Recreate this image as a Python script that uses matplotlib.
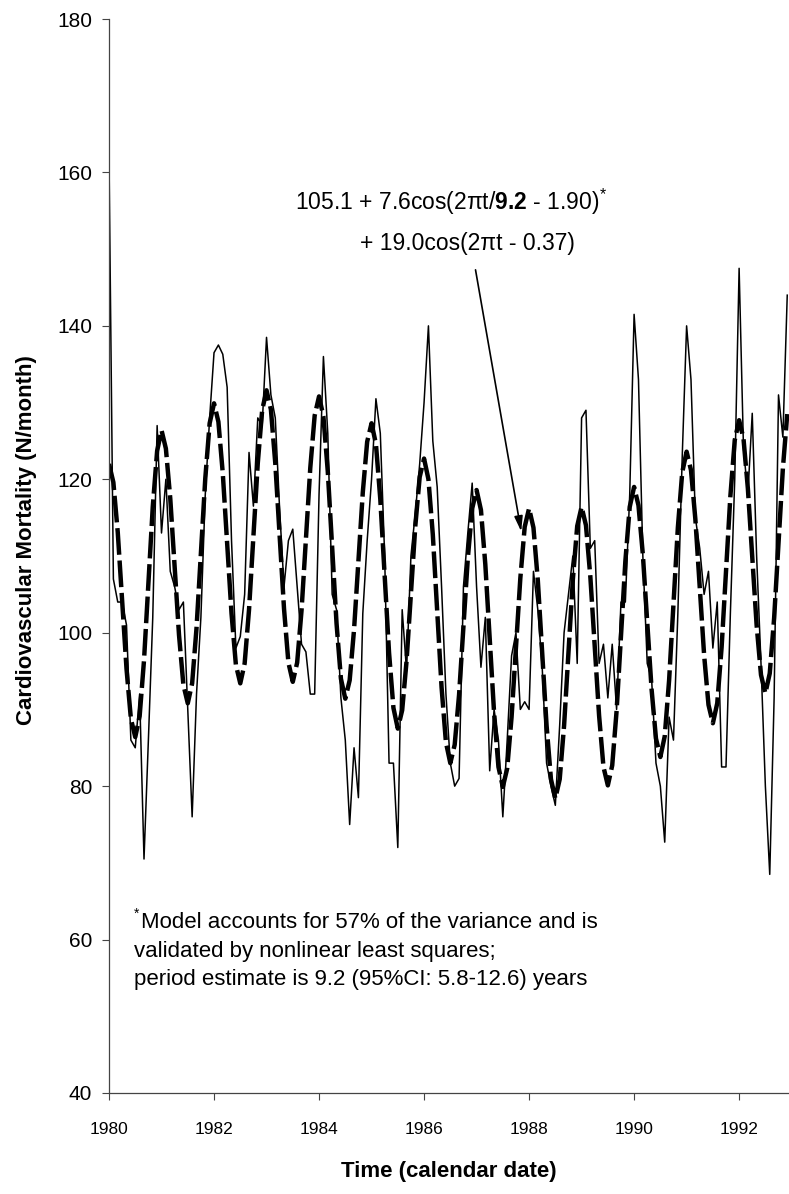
import numpy as np
import matplotlib
matplotlib.use("Agg")
from matplotlib import pyplot as plt

plt.rcParams['font.family'] = ['Liberation Sans', 'DejaVu Sans']
plt.rcParams['mathtext.fontset'] = 'custom'
plt.rcParams['mathtext.rm'] = 'Liberation Sans'
plt.rcParams['mathtext.bf'] = 'Liberation Sans:bold'

# monthly observed mortality, Jan 1980 .. Dec 1992
observed = [
    162, 107, 104, 104, 101, 86, 85, 92, 70.5, 86, 102, 127,
    113, 120, 108, 106, 103, 104, 90, 76, 92, 102, 118, 128,
    136.5, 137.5, 136.3, 132, 112, 98, 99.5, 105, 123.5, 116.5, 128, 127,
    138.5, 131, 128, 116, 106, 112, 113.5, 106, 98.5, 97.5, 92, 92,
    118, 136, 126, 105, 103, 91.5, 86, 75, 85, 78.5, 102.5, 112,
    120, 130.5, 126, 110, 83, 83, 72, 103, 95, 110, 115.6, 122,
    130, 140, 125, 119, 106, 92, 83, 80, 81, 106, 113, 119.5,
    106, 95.5, 102, 82, 90, 86, 76, 86, 97, 100, 90, 91,
    90, 108, 103, 95.5, 83, 80, 77.5, 88, 100, 105, 110, 96,
    128, 129, 111, 112, 96, 98.5, 91.5, 98.5, 90, 104, 104, 118,
    141.5, 133, 110, 96, 94, 83, 80, 72.7, 89, 86, 102.5, 123,
    140, 133, 115, 111, 105, 108, 98, 104, 82.5, 82.5, 102.5, 120,
    147.5, 124, 118, 128.6, 110, 96, 80, 68.5, 91.5, 131, 125.5, 144,
]

# fitted model curve
model = [
    122.0, 119.6, 113.1, 104.2, 95.3, 88.8, 86.4, 89.1, 96.4, 106.4, 116.4, 123.7,
    126.4, 124.0, 117.5, 108.6, 99.7, 93.2, 90.8, 93.4, 100.6, 110.4, 120.1, 127.3,
    129.9, 127.5, 120.8, 111.7, 102.5, 95.8, 93.4, 96.0, 103.0, 112.5, 122.1, 129.0,
    131.6, 129.1, 122.1, 112.6, 103.1, 96.1, 93.6, 96.1, 102.9, 112.2, 121.5, 128.3,
    130.8, 128.2, 121.0, 111.1, 101.2, 94.0, 91.4, 93.8, 100.4, 109.4, 118.3, 124.9,
    127.3, 124.6, 117.4, 107.4, 97.4, 90.2, 87.5, 89.9, 96.3, 105.1, 113.9, 120.3,
    122.7, 120.0, 112.8, 102.9, 92.9, 85.7, 83.0, 85.4, 91.9, 100.8, 109.7, 116.2,
    118.6, 116.0, 108.9, 99.3, 89.6, 82.5, 79.9, 82.3, 89.0, 98.1, 107.1, 113.8,
    116.2, 113.7, 106.8, 97.3, 87.9, 80.9, 78.4, 80.9, 87.9, 97.4, 106.9, 113.9,
    116.4, 114.0, 107.3, 98.3, 89.2, 82.5, 80.1, 82.7, 89.8, 99.6, 109.3, 116.4,
    119.0, 116.6, 110.2, 101.4, 92.6, 86.2, 83.8, 86.5, 93.8, 103.7, 113.7, 120.9,
    123.6, 121.2, 114.8, 105.9, 97.1, 90.6, 88.2, 90.8, 98.1, 108.0, 117.8, 125.1,
    127.7, 125.3, 118.8, 109.9, 101.0, 94.5, 92.1, 94.7, 101.9, 111.6, 121.4, 128.5,
]

start_year = 1980
year_ticks = [1980, 1982, 1984, 1986, 1988, 1990, 1992]
y_ticks = [40, 60, 80, 100, 120, 140, 160, 180]

t = start_year + np.arange(len(observed)) / 12.0

W, H = 789, 1194
fig = plt.figure(figsize=(W / 100, H / 100), dpi=100)
ax = fig.add_axes([109 / W, (H - 1093) / H, (W - 109) / W, (1093 - 19) / H])

ax.plot(t, observed, color='black', lw=1.1)
ax.plot(t, model, color='black', lw=3.2, dashes=(6, 1.3), solid_capstyle='butt')

ax.set_xlim(1980, 1992.95)
ax.set_ylim(40, 180)
ax.set_xticks(year_ticks)
ax.set_yticks(y_ticks)
ax.tick_params(axis='x', direction='out', length=5, width=0.8, pad=16,
               labelsize=12.5, color='#444444')
ax.tick_params(axis='y', direction='out', length=5, width=0.8, pad=7,
               labelsize=15, color='#444444')
for side in ('top', 'right'):
    ax.spines[side].set_visible(False)
for side in ('left', 'bottom'):
    ax.spines[side].set_color('#444444')
    ax.spines[side].set_linewidth(0.9)

fig.text(449 / W, (H - 1172) / H, 'Time (calendar date)', ha='center', va='center',
         fontsize=16, fontweight='bold')
fig.text(27 / W, (H - 540) / H, 'Cardiovascular Mortality (N/month)', ha='center',
         va='center', rotation=90, fontsize=16, fontweight='bold')

# model formula and arrow
fig.text(295 / W, (H - 210) / H,
         r'105.1 + 7.6cos(2πt/$\mathbf{9.2}$ - 1.90)$^{*}$',
         ha='left', va='baseline', fontsize=16.5)
fig.text(360 / W, (H - 250) / H, '+ 19.0cos(2πt - 0.37)',
         ha='left', va='baseline', fontsize=16.5)
ax.annotate('', xy=(1987.85, 113.2), xytext=(1986.98, 147.3),
            arrowprops=dict(arrowstyle='-|>,head_length=0.9,head_width=0.25',
                            color='black', lw=1.2, shrinkA=0, shrinkB=0))

# footnote
fig.text(134 / W, (H - 918) / H, '*', ha='left', va='baseline', fontsize=10)
fig.text(141 / W, (H - 928) / H, 'Model accounts for 57% of the variance and is',
         ha='left', va='baseline', fontsize=16)
fig.text(134 / W, (H - 957) / H, 'validated by nonlinear least squares;',
         ha='left', va='baseline', fontsize=16)
fig.text(134 / W, (H - 985) / H, 'period estimate is 9.2 (95%CI: 5.8-12.6) years',
         ha='left', va='baseline', fontsize=16)

fig.savefig('out.png', dpi=100)
